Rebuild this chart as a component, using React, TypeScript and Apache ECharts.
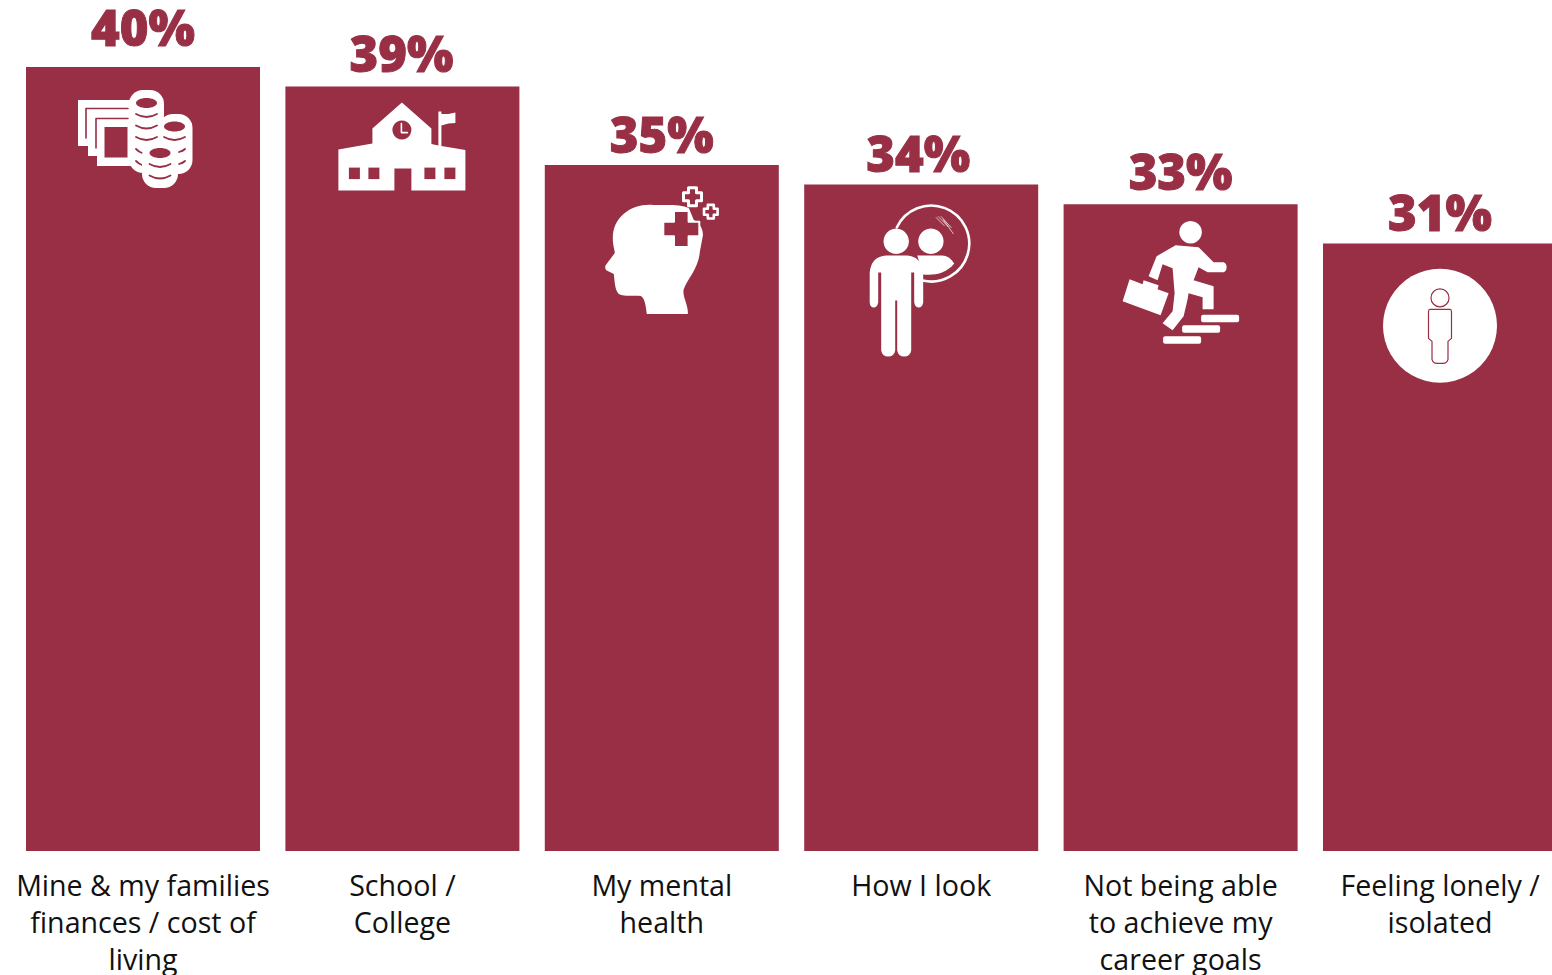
import React, { useEffect, useRef } from "react";
import * as echarts from "echarts";

const categories = [
  "Mine & my families\nfinances / cost of\nliving",
  "School /\nCollege",
  "My mental\nhealth",
  "How I look",
  "Not being able\nto achieve my\ncareer goals",
  "Feeling lonely /\nisolated",
];
const percentages = [40, 39, 35, 34, 33, 31];

// Space between a bar's top edge and its percentage label, and the label's sideways nudge.
const labelGaps = [16, 9, 7, 7, 9, 7];
const labelNudges = [0, -1, 0, -3, 0, 0];

const CRIMSON = "#982f45";
const WHITE = "#ffffff";

type Shape = Record<string, unknown>;

const fillPath = (d: string, fill = WHITE): Shape => ({
  type: "path",
  shape: { pathData: d },
  style: { fill },
});
const strokePath = (d: string, stroke = CRIMSON, lineWidth = 1.8): Shape => ({
  type: "path",
  shape: { pathData: d },
  style: { fill: "none", stroke, lineWidth, lineCap: "round", lineJoin: "round" },
});
const disc = (cx: number, cy: number, r: number, fill = WHITE): Shape => ({
  type: "circle",
  shape: { cx, cy, r },
  style: { fill },
});
const oval = (cx: number, cy: number, rx: number, ry: number, fill = CRIMSON): Shape => ({
  type: "ellipse",
  shape: { cx, cy, rx, ry },
  style: { fill },
});
const box = (x: number, y: number, width: number, height: number, fill = WHITE, r = 0): Shape => ({
  type: "rect",
  shape: { x, y, width, height, r },
  style: { fill },
});
const crescent = (cx: number, y: number, half = 10.5) =>
  strokePath(`M${cx - half} ${y} Q${cx} ${y + 6} ${cx + half} ${y}`);
const crossPath = (cx: number, cy: number, arm: number, t: number) =>
  `M${cx - t} ${cy - arm}H${cx + t}V${cy - t}H${cx + arm}V${cy + t}H${cx + t}V${cy + arm}H${cx - t}V${cy + t}H${cx - arm}V${cy - t}H${cx - t}Z`;
const outlinedCross = (cx: number, cy: number, arm: number, t: number, lineWidth = 2): Shape => ({
  type: "path",
  shape: { pathData: crossPath(cx, cy, arm, t) },
  style: { fill: CRIMSON, stroke: WHITE, lineWidth, lineJoin: "round" },
});

// Each pictogram is drawn in its own units; the anchor is the point that sits on the middle of the bar's top edge.
const financesIcon: Shape[] = [
  fillPath("M78 100H132V166H97V156H88V146H78Z"),
  strokePath("M86 138V108.5H128", CRIMSON, 1.6),
  strokePath("M96 148V118.5H128", CRIMSON, 1.6),
  box(104.5, 127, 23, 30.5, CRIMSON),
  box(129, 90, 35, 83, WHITE, 14),
  oval(146.5, 103, 10.5, 5),
  crescent(146.5, 114),
  crescent(146.5, 125.5),
  crescent(146.5, 137),
  box(159, 114, 33.5, 60, WHITE, 14),
  oval(174.5, 126.5, 10.5, 5),
  crescent(174.5, 137),
  strokePath("M179 152Q183 151 185 149"),
  strokePath("M179 164Q183 163 185 161"),
  strokePath("M136 149Q139 152 142 153"),
  strokePath("M136 161Q139 164 142 165"),
  box(142, 143, 36, 45, WHITE, 14),
  oval(160, 153, 10.5, 5),
  crescent(160, 164),
  crescent(160, 175.5),
];

const schoolIcon: Shape[] = [
  fillPath("M338 149L372 143V128L401.5 102L431 128V143.5L438 145V111H441V113.5H448L455 112V122.5L448 123L441 125V145.5L465 149.5V190H411V168H394V190H338Z"),
  box(348.5, 167, 11, 11.5, CRIMSON),
  box(368, 167, 11, 11.5, CRIMSON),
  box(424, 167, 11, 11.5, CRIMSON),
  box(444, 167, 11, 11.5, CRIMSON),
  disc(401.5, 129.5, 9.5, CRIMSON),
  strokePath("M401 123V132H407", WHITE, 1.6),
];

const mentalHealthIcon: Shape[] = [
  fillPath("M653 205C632 203 612 216 612 238C612 246 614 250 614 253L605 265Q603 269 607 271L613 274C614 282 614 290 618 294C624 297 634 295 640 296C644 298 645 306 646 314H687C688 306 681 296 683 289C686 280 698 268 699 252L702 236C703 228 697 222 693 220L688 208C680 204 665 205 653 205Z"),
  outlinedCross(680.5, 229, 18, 7.3, 2),
  outlinedCross(691.7, 196.7, 9, 4, 3),
  outlinedCross(710, 211.7, 6.8, 3, 2.6),
];

const appearanceIcon: Shape[] = [
  strokePath("M896.7 226.7A38 38 0 1 1 922.5 280", WHITE, 2.6),
  disc(896, 240.7, 12.7),
  disc(930.7, 240.7, 12.7),
  fillPath("M917 255H942Q949 255 954 263C946 273 935 275 923 274Z"),
  fillPath("M886 255H907Q921 256 923 272V302Q922 307 918.5 307Q915 307 914 302V272H911V350Q910 356 904 356Q898 356 897 350V300H895V350Q894 356 888 356Q882 356 881 350V272H878V302Q877 307 873.5 307Q870 307 869.5 302V272Q871 256 886 255Z"),
  strokePath("M936 217L944 225M938 216L948 226M941 216L951 227M943 219L953 233", WHITE, 0.7),
];

const careerIcon: Shape[] = [
  disc(1190, 232, 11.3),
  fillPath("M1175 245L1198 247L1213 262H1223Q1226 263 1226 267Q1226 271 1223 272H1207L1198 267L1193 280L1213 286V309H1202V297L1188 293L1187 299L1183 316L1172 330L1162 323L1172 311L1174 293L1172 268L1162 264L1157 280L1148 276L1156 256Z"),
  fillPath("M1143 280L1158 285L1157 289L1168 293L1160 315L1122 301L1129 279L1142 284Z"),
  box(1200.5, 314.5, 38, 7.5, WHITE, 2),
  box(1181.5, 325, 38, 7.5, WHITE, 2),
  box(1162.5, 336, 38, 7.5, WHITE, 2),
];

const lonelyIcon: Shape[] = [
  disc(1440, 325.3, 57),
  strokePath("M1449 297.5A9 9 0 1 1 1431 297.5A9 9 0 1 1 1449 297.5Z", CRIMSON, 1.2),
  strokePath("M1430 309H1450Q1451.5 309 1451.5 311V338L1448 341V359Q1447 363 1443 363H1437Q1433 363 1432 359V341L1428.5 338V311Q1428.5 309 1430 309Z", CRIMSON, 1.2),
];

const pictograms: { anchor: [number, number]; parts: Shape[] }[] = [
  { anchor: [143, 67], parts: financesIcon },
  { anchor: [402, 86], parts: schoolIcon },
  { anchor: [661, 165], parts: mentalHealthIcon },
  { anchor: [921, 184], parts: appearanceIcon },
  { anchor: [1180, 204], parts: careerIcon },
  { anchor: [1440, 243], parts: lonelyIcon },
];

export default function App() {
  const ref = useRef<HTMLDivElement>(null);

  useEffect(() => {
    const chart = echarts.init(ref.current!, null, { renderer: "svg" });
    chart.setOption({
      animation: false,
      grid: { left: 13.3, top: 67, width: 1556.4, height: 784, outerBoundsMode: "none" },
      xAxis: {
        type: "category",
        data: categories,
        axisLine: { show: false },
        axisTick: { show: false },
        axisLabel: {
          interval: 0,
          margin: 15,
          color: "#111111",
          fontFamily: "Open Sans",
          fontSize: 28.6,
          lineHeight: 36.8,
          hideOverlap: false,
        },
      },
      yAxis: { type: "value", min: 0, max: 40, show: false, splitLine: { show: false } },
      series: [
        {
          type: "bar",
          data: percentages.map((value, index) => ({
            value,
            label: { distance: labelGaps[index], offset: [labelNudges[index], 0] },
          })),
          barWidth: 234,
          silent: true,
          itemStyle: { color: CRIMSON },
          label: {
            show: true,
            position: "top",
            formatter: "{c}%",
            color: CRIMSON,
            fontFamily: "Open Sans",
            fontWeight: 800,
            fontSize: 49,
            lineHeight: 49,
            textBorderColor: CRIMSON,
            textBorderWidth: 1,
          },
        },
        {
          type: "custom",
          silent: true,
          clip: false,
          z: 10,
          data: percentages.map((value, index) => [index, value]),
          renderItem: (_params: unknown, api: any) => {
            const index = api.value(0);
            const [x, y] = api.coord([index, api.value(1)]);
            const { anchor, parts } = pictograms[index];
            return {
              type: "group",
              x: x - anchor[0],
              y: y - anchor[1],
              children: parts,
            };
          },
        },
      ],
    });
    return () => chart.dispose();
  }, []);

  return (
    <div
      ref={ref}
      style={{ position: "absolute", left: 0, top: 0, width: 1552, height: 975, overflow: "hidden", background: "#fff" }}
    />
  );
}
